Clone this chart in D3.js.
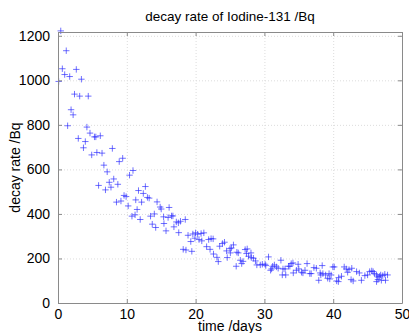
<!DOCTYPE html>
<html>
<head>
<meta charset="utf-8">
<script src="https://cdn.jsdelivr.net/npm/d3@7"></script>
<style>
  body { margin: 0; background: #fff; }
  svg { display: block; font-family: "Liberation Sans", Arial, sans-serif; }
</style>
</head>
<body>
<svg id="chart"></svg>
<script>
const days = [
  0.1, 0.4, 0.63, 0.97, 1.2, 1.4, 1.7, 1.9, 2.2, 2.4, 2.66, 2.95, 3.15, 3.4, 3.7, 3.97,
  4.2, 4.4, 4.65, 4.9, 5.3, 5.5, 5.65, 5.9, 6.15, 6.4, 6.67, 6.9, 7.15, 7.45, 7.7, 7.9,
  8.1, 8.5, 8.7, 8.9, 9.15, 9.4, 9.6, 9.9, 10.2, 10.4, 10.75, 10.9, 11.2, 11.3, 11.5, 11.7,
  11.95, 12.15, 12.4, 12.7, 13.0, 13.25, 13.45, 13.7, 14.0, 14.2, 14.4, 14.85, 15.0, 15.35,
  15.4, 15.7, 16.0, 16.15, 16.5, 16.7, 16.85, 17.2, 17.5, 17.55, 17.8, 18.2, 18.5, 18.6,
  18.9, 19.3, 19.45, 19.6, 19.9, 20.0, 20.3, 20.5, 20.8, 20.9, 21.2, 21.6, 21.9, 22.1,
  22.25, 22.55, 22.6, 23.1, 23.3, 23.5, 23.9, 24.2, 24.5, 24.6, 25.0, 25.05, 25.2, 25.5,
  25.9, 26.0, 26.2, 26.5, 26.7, 26.9, 27.2, 27.4, 27.5, 27.7, 28.05, 28.1, 28.4, 28.7,
  28.9, 29.4, 29.7, 30.1, 30.2, 30.6, 30.9, 31.05, 31.2, 31.45, 31.75, 32.0, 32.4, 32.6,
  32.7, 33.0, 33.1, 33.5, 33.7, 33.9, 34.15, 34.2, 34.65, 34.9, 35.0, 35.4, 35.6, 35.9,
  36.2, 36.6, 36.8, 37.2, 37.55, 37.9, 38.1, 38.2, 38.4, 38.5, 38.9, 39.2, 39.4, 39.5,
  39.7, 39.95, 40.15, 40.5, 40.75, 40.8, 41.2, 41.6, 41.9, 42.1, 42.3, 42.6, 42.7, 42.9,
  43.4, 43.8, 44.1, 44.6, 45.0, 45.3, 45.6, 45.8, 46.0, 46.3, 46.3, 46.5, 46.5, 46.75,
  46.9, 47.0, 47.2, 47.5, 47.6, 47.9
];
const rates = [
  995, 1222, 1052, 1026, 1133, 796, 1017, 868, 845, 938, 1049, 739, 929, 1005, 697, 725,
  790, 929, 763, 665, 746, 746, 676, 528, 751, 673, 619, 508, 589, 542, 520, 694,
  557, 453, 533, 635, 458, 650, 483, 478, 436, 574, 390, 595, 396, 463, 420, 505,
  375, 453, 492, 523, 474, 471, 390, 354, 400, 339, 454, 431, 422, 387,
  357, 324, 384, 429, 391, 391, 342, 364, 360, 316, 367, 241, 375, 238,
  304, 276, 232, 310, 291, 315, 309, 285, 312, 279, 315, 253, 285, 241,
  289, 288, 220, 205, 186, 255, 267, 273, 234, 204, 244, 225, 247, 261,
  165, 228, 225, 192, 177, 187, 240, 222, 243, 210, 225, 204, 201, 189,
  171, 171, 174, 174, 168, 207, 147, 153, 165, 171, 162, 156, 192, 126,
  153, 153, 126, 165, 165, 177, 180, 135, 147, 174, 153, 138, 135, 147,
  177, 132, 132, 159, 156, 102, 135, 126, 168, 132, 126, 111, 132, 108,
  126, 162, 162, 99, 96, 114, 120, 162, 153, 138, 150, 105, 156, 99,
  141, 135, 102, 123, 126, 141, 144, 141, 132, 126, 96, 117, 105, 120,
  126, 102, 123, 129, 102, 126
];
const xTicks = [0, 10, 20, 30, 40, 50];
const yTicks = [0, 200, 400, 600, 800, 1000, 1200];

const W = 409, H = 333;
const margin = { top: 32, right: 7, bottom: 30, left: 58 };
const width = W - margin.left - margin.right;
const height = H - margin.top - margin.bottom;

const svg = d3.select("#chart").attr("width", W).attr("height", H);
const g = svg.append("g").attr("transform", `translate(${margin.left},${margin.top})`);

const x = d3.scaleLinear().domain([0, 50]).range([0, width]);
const y = d3.scaleLinear().domain([0, 1217]).range([height, 0]);

// dotted grid
g.append("g")
    .attr("transform", `translate(0,${height})`)
    .call(d3.axisBottom(x).tickValues(xTicks).tickSize(-height).tickFormat(""))
    .call(a => a.select(".domain").remove())
    .selectAll("line").attr("stroke", "#dcdcdc").attr("stroke-dasharray", "1,2");
g.append("g")
    .call(d3.axisLeft(y).tickValues(yTicks).tickSize(-width).tickFormat(""))
    .call(a => a.select(".domain").remove())
    .selectAll("line").attr("stroke", "#dcdcdc").attr("stroke-dasharray", "1,2");

// markers
const s = 3.2;
g.append("g").selectAll("path")
  .data(days.map((d, i) => [d, rates[i]]))
  .join("path")
    .attr("d", d => {
      const px = x(d[0]), py = y(d[1]);
      return `M${px - s},${py}H${px + s}M${px},${py - s}V${py + s}`;
    })
    .attr("stroke", "#2b2bff")
    .attr("stroke-opacity", 0.75)
    .attr("stroke-width", 0.9)
    .attr("fill", "none");

// axes box with inward ticks
const axisColor = "#8a8a8a";
const fmt = d3.format("d");
function styleAxis(a) {
  a.select(".domain").attr("stroke", axisColor);
  a.selectAll(".tick line").attr("stroke", axisColor);
  a.selectAll(".tick text").attr("fill", "#000").style("font-size", "14px");
}
g.append("g")
    .attr("transform", `translate(0,${height})`)
    .call(d3.axisBottom(x).tickValues(xTicks).tickFormat(fmt).tickSizeInner(-4).tickSizeOuter(0).tickPadding(6))
    .call(styleAxis);
g.append("g")
    .call(d3.axisTop(x).tickValues(xTicks).tickSizeInner(-4).tickSizeOuter(0).tickFormat(""))
    .call(styleAxis);
g.append("g")
    .call(d3.axisLeft(y).tickValues(yTicks).tickFormat(fmt).tickSizeInner(-4).tickSizeOuter(0).tickPadding(8))
    .call(styleAxis);
g.append("g")
    .attr("transform", `translate(${width},0)`)
    .call(d3.axisRight(y).tickValues(yTicks).tickSizeInner(-4).tickSizeOuter(0).tickFormat(""))
    .call(styleAxis);

// titles
svg.append("text")
    .attr("x", margin.left + width / 2).attr("y", 21)
    .attr("text-anchor", "middle")
    .style("font-size", "13.5px")
    .text("decay rate of Iodine-131 /Bq");
svg.append("text")
    .attr("x", margin.left + width / 2).attr("y", 331)
    .attr("text-anchor", "middle")
    .style("font-size", "14px")
    .text("time /days");
svg.append("text")
    .attr("transform", `translate(20,${margin.top + height / 2}) rotate(-90)`)
    .attr("text-anchor", "middle")
    .style("font-size", "14px")
    .text("decay rate /Bq");
</script>
</body>
</html>
